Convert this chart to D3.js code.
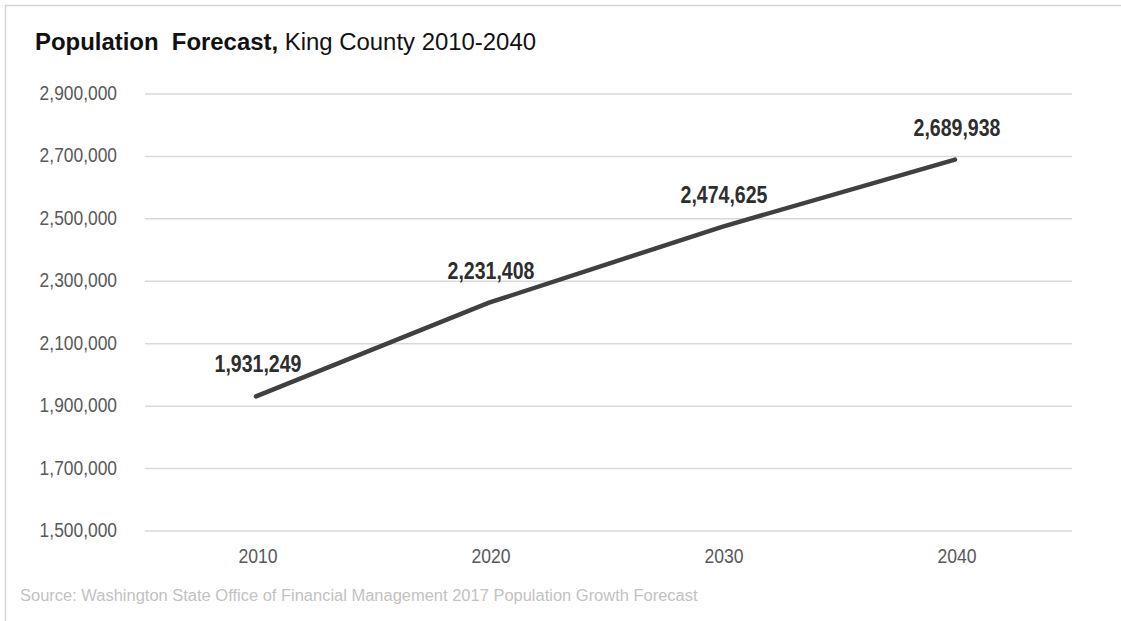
<!DOCTYPE html>
<html>
<head>
<meta charset="utf-8">
<script src="https://cdn.jsdelivr.net/npm/d3@7"></script>
<style>
  html, body { margin: 0; padding: 0; background: #fff; }
  svg { display: block; }
</style>
</head>
<body>
<svg id="chart" width="1121" height="621"></svg>
<script>
const years = ["2010", "2020", "2030", "2040"];
const population = [1931249, 2231408, 2474625, 2689938];
const yTicks = [1500000, 1700000, 1900000, 2100000, 2300000, 2500000, 2700000, 2900000];
const titleBold = "Population  Forecast,";
const titleRest = " King County 2010-2040";
const sourceText = "Source: Washington State Office of Financial Management 2017 Population Growth Forecast";

const svg = d3.select("#chart");
const W = 1121, H = 621;
const fontFam = "'Liberation Sans', Arial, Helvetica, sans-serif";

// frame
svg.append("line").attr("x1", 5).attr("x2", W).attr("y1", 5.5).attr("y2", 5.5)
  .attr("stroke", "#d4d4d4").attr("stroke-width", 1.5);
svg.append("line").attr("x1", 5.5).attr("x2", 5.5).attr("y1", 5).attr("y2", H)
  .attr("stroke", "#d4d4d4").attr("stroke-width", 1.5);

const plotLeft = 145, plotRight = 1072;
const x = d3.scalePoint().domain(years).range([256, 955]);
const y = d3.scaleLinear().domain([1500000, 2900000]).range([531, 94]);

// gridlines
svg.append("g").selectAll("line").data(yTicks).join("line")
  .attr("x1", plotLeft).attr("x2", plotRight)
  .attr("y1", d => y(d)).attr("y2", d => y(d))
  .attr("stroke", "#d9d9d9").attr("stroke-width", 1.5);

// y labels
const fmt = d3.format(",");
svg.append("g").selectAll("text").data(yTicks).join("text")
  .attr("transform", d => `translate(117,${y(d) + 6}) scale(0.87,1)`)
  .attr("text-anchor", "end")
  .attr("font-family", fontFam).attr("font-size", 20)
  .attr("fill", "#595959")
  .text(d => fmt(d));

// x labels
svg.append("g").selectAll("text").data(years).join("text")
  .attr("transform", d => `translate(${x(d) + 2},563) scale(0.88,1)`)
  .attr("text-anchor", "middle")
  .attr("font-family", fontFam).attr("font-size", 20)
  .attr("fill", "#595959")
  .text(d => d);

// line
const data = years.map((yr, i) => ({ year: yr, value: population[i] }));
svg.append("path").datum(data)
  .attr("fill", "none").attr("stroke", "#404040").attr("stroke-width", 4.5)
  .attr("stroke-linecap", "round")
  .attr("d", d3.line().x(d => x(d.year)).y(d => y(d.value)));

// data labels
svg.append("g").selectAll("text").data(data).join("text")
  .attr("transform", d => `translate(${x(d.year) + 2},${y(d.value) - 24}) scale(0.85,1)`)
  .attr("text-anchor", "middle")
  .attr("font-family", fontFam).attr("font-size", 23).attr("font-weight", "bold")
  .attr("fill", "#2e2e2e")
  .text(d => fmt(d.value));

// title
const t = svg.append("text")
  .attr("transform", "translate(35,50) scale(1.04,1)")
  .attr("font-family", fontFam).attr("font-size", 23).attr("fill", "#111");
t.append("tspan").attr("font-weight", "bold").text(titleBold).style("white-space", "pre");
t.append("tspan").text(titleRest).style("white-space", "pre");

// source
svg.append("text")
  .attr("transform", "translate(20,601) scale(1.03,1)")
  .attr("font-family", fontFam).attr("font-size", 16)
  .attr("fill", "#c2c2c2")
  .text(sourceText);
</script>
</body>
</html>
